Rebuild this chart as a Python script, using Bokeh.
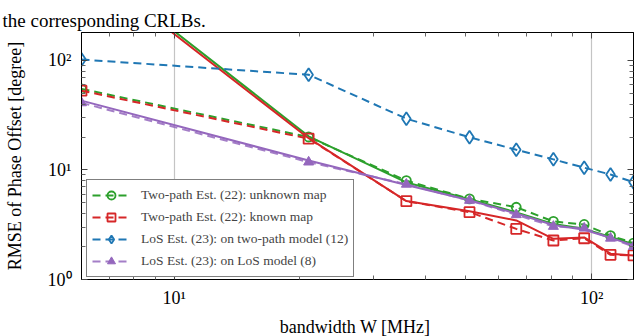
from bokeh.plotting import figure
from bokeh.models import Range1d, LogAxis, FixedTicker, Legend, LegendItem
from bokeh.embed import file_html
from bokeh.resources import INLINE

# ---- data ----
bandwidth = [6, 21, 36, 51, 66, 81, 96, 111, 126]
est_unknown = [55, 20, 8.0, 5.45, 4.57, 3.39, 3.18, 2.52, 2.15]
crlb_unknown = [850, 20.3, 7.7, 5.4, 4.1, 3.22, 2.9, 2.45, 2.1]
est_known = [53, 19.3, 5.19, 4.12, 2.90, 2.27, 2.38, 1.68, 1.66]
crlb_known = [790, 19.5, 5.2, 4.2, 3.46, 2.35, 2.42, 1.72, 1.66]
los_on_two_path = [102, 74, 29.4, 19.9, 15.3, 12.5, 10.5, 9.1, 7.74]
los_est = [41, 11.8, 7.4, 5.27, 3.90, 3.05, 2.94, 2.38, 2.0]
los_crlb = [43, 12.2, 7.3, 5.3, 4.0, 3.15, 2.85, 2.4, 2.05]

legend_labels = [
    "Two-path Est. (22): unknown map",
    "Two-path Est. (22): known map",
    "LoS Est. (23): on two-path model (12)",
    "LoS Est. (23): on LoS model (8)",
]
x_major_ticks = [10, 100]
x_major_labels = ["10¹", "10²"]
x_minor_ticks = [7, 8, 9, 20, 30, 40, 50, 60, 70, 80, 90]
y_major_ticks = [1, 10, 100]
y_major_labels = ["10⁰", "10¹", "10²"]
y_minor_ticks = [2, 3, 4, 5, 6, 7, 8, 9, 20, 30, 40, 50, 60, 70, 80, 90]
x_range = (6, 126)
y_range = (1, 180)
caption = "the corresponding CRLBs."

GREEN = "#2ca02c"
RED = "#d62728"
BLUE = "#1f77b4"
PURPLE = "#9467bd"
FONT = "Liberation Serif"
DASH = "8 5"

p = figure(
    x_axis_type="log", y_axis_type="log",
    x_range=Range1d(*x_range), y_range=Range1d(*y_range),
    frame_width=552, frame_height=247,
    min_border_left=81, min_border_right=4, min_border_top=32, min_border_bottom=55,
    output_backend="svg", toolbar_location=None,
)
p.outline_line_color = "black"
p.background_fill_color = "white"

# caption text shown above the chart, left-aligned at the page edge
p.title.text = caption
p.title.align = "left"
p.title.offset = -79
p.title.standoff = 4
p.title.text_font = FONT
p.title.text_font_size = "19px"
p.title.text_font_style = "normal"
p.title.text_color = "black"

xt = FixedTicker(ticks=x_major_ticks, minor_ticks=x_minor_ticks)
yt = FixedTicker(ticks=y_major_ticks, minor_ticks=y_minor_ticks)

def style_axis(ax, ticker, overrides, show_labels):
    ax.ticker = ticker
    ax.major_tick_in = 6
    ax.major_tick_out = 0
    ax.minor_tick_in = 4
    ax.minor_tick_out = 0
    ax.axis_line_color = "black"
    ax.major_tick_line_color = "#444444"
    ax.minor_tick_line_color = "#666666"
    if show_labels:
        ax.major_label_overrides = overrides
        ax.major_label_text_font = FONT
        ax.major_label_text_font_size = "18px"
        ax.major_label_text_color = "black"
        ax.axis_label_text_font = FONT
        ax.axis_label_text_font_size = "18px"
        ax.axis_label_text_font_style = "normal"
        ax.axis_label_text_color = "black"
    else:
        ax.major_label_text_font_size = "1px"
        ax.major_label_text_alpha = 0
        ax.major_label_standoff = 0

style_axis(p.xaxis[0], xt, dict(zip(x_major_ticks, x_major_labels)), True)
style_axis(p.yaxis[0], yt, dict(zip(y_major_ticks, y_major_labels)), True)
p.xaxis[0].axis_label = "bandwidth W  [MHz]"
p.yaxis[0].axis_label = "RMSE of Phase Offset [degree]"
p.xaxis[0].major_label_standoff = 8
p.xaxis[0].axis_label_standoff = 6
p.yaxis[0].major_label_standoff = 10
p.yaxis[0].axis_label_standoff = 20

top_ax = LogAxis()
right_ax = LogAxis()
style_axis(top_ax, xt, None, False)
style_axis(right_ax, yt, None, False)
p.add_layout(top_ax, "above")
p.add_layout(right_ax, "right")

p.xgrid.ticker = FixedTicker(ticks=x_major_ticks)
p.xgrid.grid_line_color = "#c4c4c4"
p.xgrid.grid_line_width = 1.2
p.ygrid.visible = False

# ---- CRLB (solid) and estimator (dashed + markers) curves ----
g_crlb = p.line(bandwidth, crlb_unknown, line_color=GREEN, line_width=2)
g_line = p.line(bandwidth, est_unknown, line_color=GREEN, line_width=2, line_dash=DASH)
g_mark = p.scatter(bandwidth, est_unknown, marker="circle", size=9, line_color=GREEN,
                   line_width=1.8, fill_color=None)

r_crlb = p.line(bandwidth, crlb_known, line_color=RED, line_width=2)
r_line = p.line(bandwidth, est_known, line_color=RED, line_width=2, line_dash=DASH)
r_mark = p.scatter(bandwidth, est_known, marker="square", size=10, line_color=RED,
                   line_width=1.8, fill_color=None)

b_line = p.line(bandwidth, los_on_two_path, line_color=BLUE, line_width=2, line_dash=DASH)
b_mark = p.scatter(bandwidth, los_on_two_path, marker="diamond", size=13, line_color=BLUE,
                   line_width=1.8, fill_color=None)

l_crlb = p.line(bandwidth, los_crlb, line_color=PURPLE, line_width=2)
l_line = p.line(bandwidth, los_est, line_color=PURPLE, line_width=2, line_dash=DASH, line_alpha=0.85)
l_mark = p.scatter(bandwidth, los_est, marker="triangle", size=10, line_color=PURPLE,
                   line_width=1, fill_color=PURPLE)

legend = Legend(
    items=[
        LegendItem(label=legend_labels[0], renderers=[g_line, g_mark]),
        LegendItem(label=legend_labels[1], renderers=[r_line, r_mark]),
        LegendItem(label=legend_labels[2], renderers=[b_line, b_mark]),
        LegendItem(label=legend_labels[3], renderers=[l_line, l_mark]),
    ],
    location=(5, 2), margin=0, padding=5, spacing=2,
    glyph_width=38, glyph_height=20, label_standoff=11, label_height=20,
    label_text_font=FONT, label_text_font_size="13.5px",
    border_line_color="black", border_line_width=1.3,
    background_fill_color="white", background_fill_alpha=1,
)
p.add_layout(legend)

open("out.html", "w").write(file_html(p, INLINE))
